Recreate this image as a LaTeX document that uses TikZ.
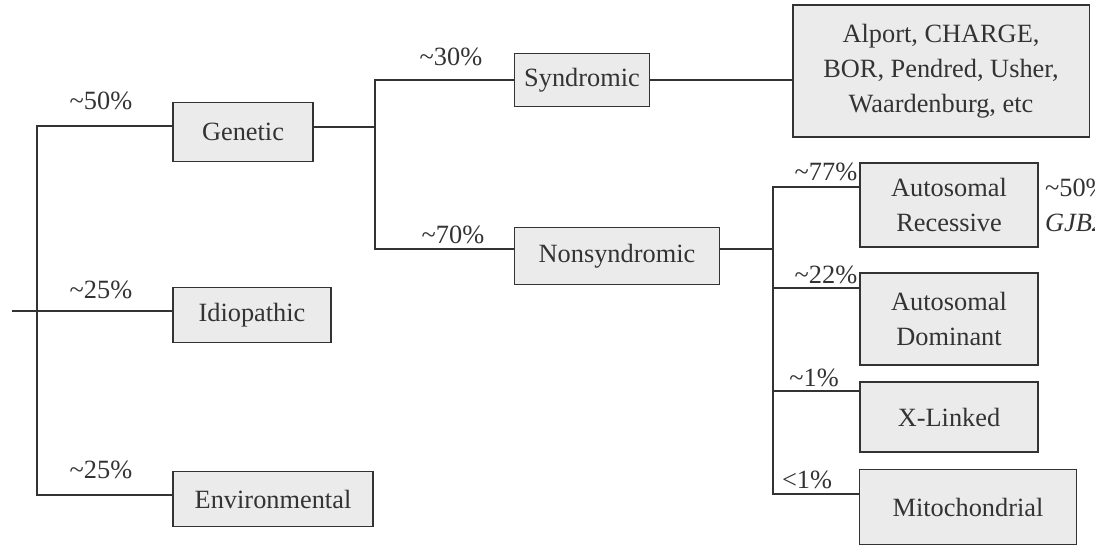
\documentclass[tikz,border=0pt]{standalone}
\usepackage{fontspec}
\setmainfont{Liberation Serif}
\definecolor{hlInk}{HTML}{333333}
\definecolor{hlFill}{HTML}{EBEBEB}
\begin{document}
\begin{tikzpicture}[x=0.02cm,y=-0.02cm,
    hlBox/.style={draw=hlInk,fill=hlFill,line width=1.1pt,align=center,text=hlInk,
      font=\fontsize{15}{20}\selectfont,inner sep=2pt},
    hlLine/.style={draw=hlInk,line width=1.1pt},
    hlPct/.style={text=hlInk,font=\fontsize{15}{18}\selectfont,inner sep=1pt},
]
\clip (0,0) rectangle (1095,546);
\fill[white] (0,0) rectangle (1095,546);
% Causes
\node[hlBox,minimum width=2.8cm,minimum height=1.18cm] (genetic) at (243,132) {Genetic};
\node[hlBox,minimum width=3.16cm,minimum height=1.1cm] (idio) at (252,315) {Idiopathic};
\node[hlBox,minimum width=4.0cm,minimum height=1.1cm] (env) at (273,499) {Environmental};
% Genetic forms
\node[hlBox,minimum width=2.7cm,minimum height=1.06cm] (synd) at (582,80) {Syndromic};
\node[hlBox,minimum width=4.1cm,minimum height=1.14cm] (nonsynd) at (617,256) {Nonsyndromic};
\node[hlBox,minimum width=5.94cm,minimum height=2.64cm] (syndList) at (941,71)
  {Alport, CHARGE,\\BOR, Pendred, Usher,\\Waardenburg, etc};
% Inheritance
\node[hlBox,minimum width=3.56cm,minimum height=1.68cm] (autoRec) at (949,205) {Autosomal\\Recessive};
\node[hlBox,minimum width=3.56cm,minimum height=1.84cm] (autoDom) at (949,319) {Autosomal\\Dominant};
\node[hlBox,minimum width=3.56cm,minimum height=1.4cm] (xLinked) at (949,417) {X-Linked};
\node[hlBox,minimum width=4.34cm,minimum height=1.5cm] (mito) at (968,507) {Mitochondrial};
% Junctions
\coordinate (root) at (12,311);
\coordinate (trunkTop) at (37,126);
\coordinate (trunkBot) at (37,495);
\coordinate (genTop) at (375,80);
\coordinate (genBot) at (375,249);
\coordinate (nsTop) at (773,187);
\coordinate (nsBot) at (773,494);
% Tree lines
\draw[hlLine] (root) -- (root -| idio.west);
\draw[hlLine] (trunkTop -| genetic.west) -- (trunkTop) -- (trunkBot) -- (trunkBot -| env.west);
\draw[hlLine] (genetic.east |- 0,127) -- (375,127);
\draw[hlLine] (genTop -| synd.west) -- (genTop) -- (genBot) -- (genBot -| nonsynd.west);
\draw[hlLine] (synd.east) -- (synd.east -| syndList.west);
\draw[hlLine] (nonsynd.east |- 0,249) -- (773,249);
\draw[hlLine] (nsTop -| autoRec.west) -- (nsTop) -- (nsBot) -- (nsBot -| mito.west);
\draw[hlLine] (773,288) -- (autoDom.west |- 0,288);
\draw[hlLine] (773,391) -- (xLinked.west |- 0,391);
% Percentages
\node[hlPct] (pGen) at (101,101) {\textasciitilde50\%};
\node[hlPct] (pIdio) at (101,290) {\textasciitilde25\%};
\node[hlPct] (pEnv) at (101,470) {\textasciitilde25\%};
\node[hlPct] (pSynd) at (451,57) {\textasciitilde30\%};
\node[hlPct] (pNon) at (453,235) {\textasciitilde70\%};
\node[hlPct] (pRec) at (826,172) {\textasciitilde77\%};
\node[hlPct] (pDom) at (826,275) {\textasciitilde22\%};
\node[hlPct] (pX) at (814,378) {\textasciitilde1\%};
\node[hlPct] (pMito) at (807,480) {<1\%};
\node[hlPct,anchor=west,align=left] (gjb) at (1043,205) {\textasciitilde50\%\\[2pt]\textit{GJB2}};
\end{tikzpicture}
\end{document}
